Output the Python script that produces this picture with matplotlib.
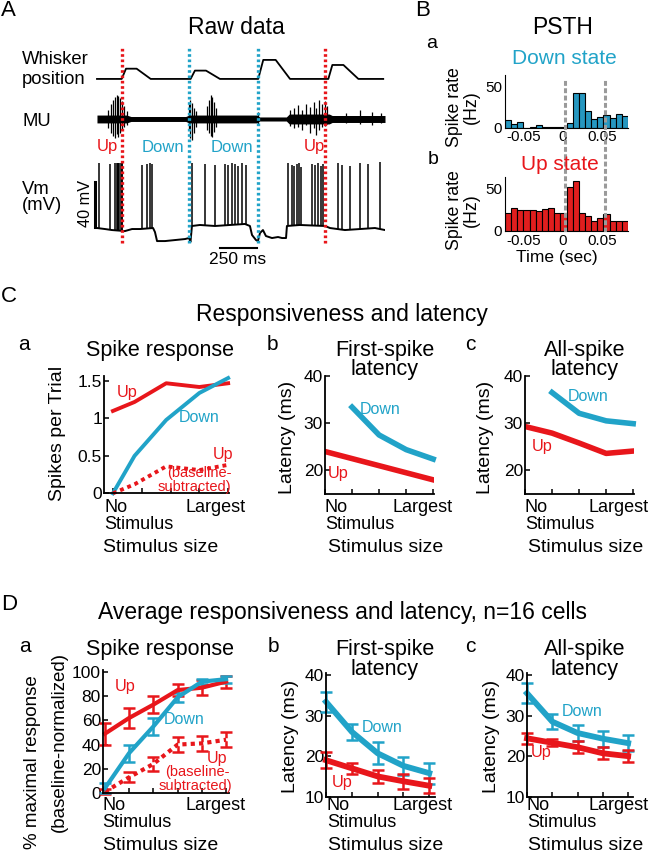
import numpy as np
import matplotlib
matplotlib.use('Agg')
import matplotlib.pyplot as plt

plt.rcParams['font.family'] = ['Liberation Sans', 'DejaVu Sans']
plt.rcParams['axes.unicode_minus'] = False

RED = '#e8161b'
CYAN = '#21a3c8'
BAR_BLUE = '#2697c0'
BAR_RED = '#e01e1e'

# ---------------- A: raw data (time in ms) ----------------
whisker_t = [0, 167, 196, 268, 363, 633, 662, 737, 831, 1090, 1124, 1208, 1305, 1564, 1591, 1666, 1767, 1935]
whisker_pos = [0, 0, 9.1, 9.1, 0, 0, 7.4, 7.4, 0, 0, 16.9, 16.9, 0, 0, 12.4, 12.4, 0, 0]

mu_band_t = [0, 200, 230, 600, 622, 1080, 1100, 1280, 1300, 1570, 1590, 1947]
mu_band = [3.5, 3.5, 2.2, 2.2, 3.5, 3.5, 1.8, 1.8, 4.4, 4.4, 3.1, 3.1]
mu_t = [74, 95, 108, 122, 135, 142, 155, 169, 182, 203, 622, 632, 642, 656, 669,
        744, 757, 771, 777, 791, 804, 1088, 1305, 1332, 1359, 1386, 1413, 1440,
        1467, 1480, 1500, 1521, 1541, 1555, 1683, 1778, 1859, 1920]
mu_hi = [8, 13.3, 16.9, 19.6, 21.3, 20.4, 18.7, 16, 11.6, 7.1, 13.3, 16.9, 14.2, 9.8, 7.1,
         11.6, 16.9, 21.3, 19.6, 15.1, 9.8, 6.2, 8, 9.8, 12.4, 8, 13.3, 10.7,
         15.1, 9.8, 16.9, 13.3, 16, 11.6, 5.3, 8, 6.2, 5.3]
mu_lo = [-8, -12.4, -15.1, -16.9, -13.3, -16, -12.4, -9.8, -7.1, -5.3, -9.8, -16.9, -18.7, -12.4, -7.1,
         -9.8, -12.4, -15.1, -16, -11.6, -7.1, -4.4, -6.2, -8, -7.1, -9.8, -5.3, -12.4,
         -8, -14.2, -9.8, -7.1, -6.2, -4.4, -3.6, -4.4, -5.3, -3.6]

vm_t = [0, 54, 101, 189, 237, 291, 379, 392, 406, 460, 527, 595, 622, 632, 642, 696, 798, 899, 1000,
        1034, 1048, 1075, 1088, 1102, 1122, 1142, 1183, 1224, 1251, 1278, 1284, 1372, 1541, 1575,
        1676, 1778, 1879, 1947]
vm_v = [-55, -55.9, -56.8, -57.7, -55.9, -55.9, -55, -58.6, -66.6, -66.6, -65.7, -64.8, -63.9, -67.4,
        -53.2, -52.3, -53.2, -52.3, -51.4, -53.2, -61.2, -65.7, -66.6, -59.4, -56.8, -62.1, -63.9,
        -63, -63.9, -63.9, -53.2, -52.3, -53.2, -55, -56.8, -55.9, -55, -56.8]
spike_t = [17, 91, 122, 132, 139, 145, 152, 159, 166, 172, 301, 335, 358, 375,
           644, 730, 798, 865, 888, 911, 933, 955, 978, 1007,
           1293, 1316, 1334, 1350, 1366, 1379, 1451, 1474, 1496, 1514, 1530,
           1631, 1654, 1710, 1778, 1834, 1913]
spike_base = [-55.2, -56.7, -57.3, -57.3, -57.3, -57.3, -57.3, -57.3, -57.3, -57.3, -55.9, -55.6, -55.3, -55.1,
              -53.2, -52.6, -53.2, -52.6, -52.4, -52.3, -52.0, -51.8, -51.6, -51.6,
              -53.1, -53.0, -52.9, -52.8, -52.6, -52.4, -52.6, -52.7, -52.8, -53.0, -53.2,
              -55.9, -56.2, -56.5, -55.9, -55.4, -55.9]
spike_peak = [2.8, 2, 2.8, 2.8, 2.8, 2.8, 2.8, 2.8, 2.8, 2.8, 1, 2, 2.8, 1.5,
              2.8, 2, 1, 2, 1, 2.8, 2, 0, 2.8, 1,
              2.8, 1, 0, 2, 2.8, -1, 2, 1, 2.8, 0, 1.5,
              2.8, 1, 0, 2.8, 2, 3.5]
state_t = [169, 622, 1088, 1541]
state_name = ['Up', 'Down', 'Down', 'Up']

# ---------------- B: PSTH ----------------
psth_left = [-0.0745, -0.0666, -0.0587, -0.0508, -0.0429, -0.035, -0.0271, -0.0192, -0.0113, -0.0034,
             0.0045, 0.0124, 0.0203, 0.0282, 0.0361, 0.044, 0.0519, 0.0598, 0.0677, 0.0756]
PSTH_BIN = 0.0079
down_rate = [9, 5, 7, 0, 1, 3, 1, 1, 0.5, 0.5, 6, 42, 42, 20, 11, 13, 15, 12, 16, 14]
up_rate = [21.5, 26.5, 24.5, 24.5, 24.5, 23, 25.5, 26.5, 21.5, 21, 51, 58, 21.5, 17, 11.5, 15.5, 19.5, 12, 12, 12]
window_t = [0.003, 0.0535]

# ---------------- C: single cell ----------------
ca_x = [0, 0.75, 1.85, 3, 4]
ca_up = [1.10, 1.22, 1.47, 1.42, 1.47]
ca_down = [0, 0.50, 0.98, 1.34, 1.54]
ca_up_sub = [0, 0.12, 0.36, 0.31, 0.38]

c_levels = [0, 1, 2, 3, 4]
cb_up = [24.0, 22.5, 21.0, 19.5, 18.0]
cb_down = [33.4, 27.5, 24.4, 22.4]
cc_up = [29.3, 27.9, 25.8, 23.6, 24.1]
cc_down = [36.5, 32.1, 30.5, 29.9]

# ---------------- D: averages, n=16 ----------------
da_levels = [0, 1, 2, 3, 4, 5]
da_up = [49, 62, 73, 85, 87, 92]
da_up_err = [9, 8, 7, 5, 6, 5]
da_down = [4, 33, 55, 79, 92, 94]
da_down_err = [4, 7, 7, 4, 2, 3]
da_up_sub = [1, 13, 24, 40, 41, 44]
da_up_sub_err = [2, 4, 6, 6, 6, 6]

d_levels = [0, 1, 2, 3, 4]
db_down = [33.4, 26, 20.7, 17.6, 15.8]
db_down_err = [2.5, 2, 2.7, 2.3, 2.6]
db_up = [19, 17, 15, 13.8, 12.7]
db_up_err = [1.9, 1.3, 1.6, 1.8, 1.9]
dc_down = [35.5, 28.5, 25.7, 24.3, 23.2]
dc_down_err = [2.5, 1.8, 2, 2, 2]
dc_up = [24.4, 23.3, 22.2, 20.7, 20.0]
dc_up_err = [1.3, 0.9, 1.5, 1.5, 1.5]

W, H = 650, 852
fig = plt.figure(figsize=(W / 100, H / 100), dpi=100)


def box(l, t, r, b):
    return [l / W, 1 - b / H, (r - l) / W, (b - t) / H]


def label(x, y, s, size=13, ha='center', va='center', **kw):
    fig.text(x / W, 1 - y / H, s, fontsize=size, ha=ha, va=va, **kw)


# ===== A =====
axA = fig.add_axes(box(85, 40, 385, 262))
axA.set_xlim(-81, 1947)
axA.set_ylim(-85.2, 112.1)
axA.axis('off')
WHISKER_Y, MU_Y = 77.5, 41.9
axA.plot(whisker_t, np.array(whisker_pos) + WHISKER_Y, color='k', lw=1.3)
axA.fill_between(mu_band_t, MU_Y - np.array(mu_band), MU_Y + np.array(mu_band), color='k', lw=0)
axA.vlines(mu_t, MU_Y + np.array(mu_lo), MU_Y + np.array(mu_hi), color='k', lw=0.9)
axA.plot(vm_t, vm_v, color='k', lw=1.4)
axA.vlines(spike_t, spike_base, spike_peak, color='k', lw=1.1)
for t, s in zip(state_t, state_name):
    axA.plot([t, t], [-68, 106], color=RED if s == 'Up' else CYAN, lw=2.4, ls=(0, (0.8, 0.8)))
axA.plot([-14, -14], [-54, -14], color='k', lw=2.2)
axA.plot([831, 1081], [-72.8, -72.8], color='k', lw=1.5)

label(1, 10, 'A', 16, ha='left')
label(236, 28, 'Raw data', 16.5)
label(22, 60, 'Whisker', 13.3, ha='left')
label(22, 79, 'position', 13.3, ha='left')
label(22, 121, 'MU', 13.3, ha='left')
label(22, 189, 'Vm', 13.3, ha='left')
label(22, 205, '(mV)', 13.3, ha='left')
for x, s in zip([107, 163, 232, 314], state_name):
    label(x, 147, s, 12, color=RED if s == 'Up' else CYAN)
label(85, 203, '40 mV', 11.7, rotation=90)
label(238, 259, '250 ms', 12.5)

# ===== B =====
axBa = fig.add_axes(box(505, 75, 628, 127.7))
axBb = fig.add_axes(box(505, 176.7, 628, 231))
for ax, rate, col in [(axBa, down_rate, BAR_BLUE), (axBb, up_rate, BAR_RED)]:
    ax.bar(psth_left, rate, width=PSTH_BIN, align='edge', color=col, edgecolor='k', lw=0.8)
    ax.set_xlim(-0.0745, 0.0835)
    ax.set_ylim(0, 63.5)
    ax.spines[['top', 'right']].set_visible(False)
    ax.set_xticks([-0.05, 0, 0.05])
    ax.set_xticklabels(['-0.05', '0', '0.05'])
    ax.set_yticks([0, 50])
    ax.set_yticklabels(['0', '50'])
    ax.tick_params(length=0, labelsize=11, pad=2)
axW = fig.add_axes(box(505, 78, 628, 232))
axW.set_xlim(-0.0745, 0.0835)
axW.set_ylim(0, 1)
axW.axis('off')
for t in window_t:
    axW.plot([t, t], [0, 1], color='#9a9a9a', lw=2.2, ls=(0, (1.6, 0.8)))

label(415, 11, 'B', 16, ha='left')
label(563, 28, 'PSTH', 16.5)
label(432, 43, 'a', 14)
label(564, 58, 'Down state', 15, color=CYAN)
label(433, 160, 'b', 14)
label(560, 165, 'Up state', 15, color=RED)
for yc in [107, 210]:
    label(455, yc, 'Spike rate', 12.8, rotation=90)
    label(471, yc, '(Hz)', 12.8, rotation=90)
label(557, 257, 'Time (sec)', 12.5)


# ===== C & D =====
def stim_axes(rect, xlim, ylim, yticks, levels):
    ax = fig.add_axes(box(*rect))
    ax.set_xlim(xlim)
    ax.set_ylim(ylim)
    ax.spines[['top', 'right']].set_visible(False)
    for s in ['left', 'bottom']:
        ax.spines[s].set_linewidth(1.3)
    ax.set_xticks(levels)
    ax.set_xticklabels([])
    ax.set_yticks(yticks)
    ax.set_yticklabels([f'{v:g}' for v in yticks])
    ax.tick_params(direction='in', length=3.5, width=1.1, labelsize=12.5, pad=1.5)
    return ax


def stim_labels(left, right, center, y_no, y_size):
    label(left, y_no, 'No', 13, ha='left')
    label(left, y_no + 17.5, 'Stimulus', 13, ha='left')
    label(right, y_no, 'Largest', 13, ha='right')
    label(center, y_size, 'Stimulus size', 14)


def errline(ax, x, y, err, color, lw, ls='-'):
    eb = ax.errorbar(x, y, yerr=err, color=color, lw=lw, ls=ls, elinewidth=1.8,
                     capsize=4.5, capthick=1.8)
    for a in eb.get_children():
        a.set_clip_on(False)
    if ls != '-':
        eb.lines[2][0].set_linestyle((0, (2.5, 1.2)))
    return eb


# C
label(1, 297, 'C', 16, ha='left')
label(342, 315, 'Responsiveness and latency', 16.5)

axCa = stim_axes((104, 376, 229, 493.3), (-0.31, 4.03), (0, 1.567), [0, 0.5, 1, 1.5], c_levels)
axCa.plot(ca_x, ca_up, color=RED, lw=2.8, clip_on=False)
axCa.plot(ca_x, ca_down, color=CYAN, lw=2.8, clip_on=False)
axCa.plot(ca_x, ca_up_sub, color=RED, lw=2.8, ls=(0, (1, 1)), clip_on=False)
label(24, 344, 'a', 15)
label(160, 350, 'Spike response', 15.5)
label(57.5, 433, 'Spikes per Trial', 14, rotation=90)
label(127, 392, 'Up', 11.7, color=RED)
label(199, 417, 'Down', 11.5, color=CYAN)
label(223, 455, 'Up', 11.5, color=RED)
label(199, 473, '(baseline-', 10.5, color=RED)
label(194, 487, 'subtracted)', 10.5, color=RED)
stim_labels(104, 246, 161, 507, 547)

axCb = stim_axes((325, 376, 434, 494), (0.28, 4.03), (15, 40), [20, 30, 40], c_levels)
axCb.plot(c_levels, cb_up, color=RED, lw=4)
axCb.plot(c_levels[1:], cb_down, color=CYAN, lw=4, clip_on=False)
label(272, 344, 'b', 15)
label(385, 350, 'First-spike', 15.5)
label(385, 370, 'latency', 15.5)
label(287.5, 437, 'Latency (ms)', 14, rotation=90)
label(380, 410, 'Down', 11.5, color=CYAN)
label(338.5, 473.5, 'Up', 11.7, color=RED)
stim_labels(325, 453, 386, 507, 547)

axCc = stim_axes((525, 376, 634, 494), (0.28, 4.03), (15, 40), [20, 30, 40], c_levels)
axCc.plot(c_levels, cc_up, color=RED, lw=4)
axCc.plot(c_levels[1:], cc_down, color=CYAN, lw=4, clip_on=False)
label(470, 344, 'c', 15)
label(585, 350, 'All-spike', 15.5)
label(585, 370, 'latency', 15.5)
label(486, 437, 'Latency (ms)', 14, rotation=90)
label(588.5, 396, 'Down', 11.5, color=CYAN)
label(542.5, 446.5, 'Up', 11.7, color=RED)
stim_labels(525, 649, 585.5, 507, 547)

# D
label(1, 605, 'D', 16, ha='left')
label(342, 612, 'Average responsiveness and latency, n=16 cells', 16.5)

axDa = stim_axes((103, 670, 229, 793), (-0.08, 5.12), (0, 101.6), [0, 20, 40, 60, 80, 100], da_levels)
errline(axDa, da_levels, da_up_sub, da_up_sub_err, RED, 3, ls=(0, (1, 1)))
errline(axDa, da_levels, da_up, da_up_err, RED, 3)
errline(axDa, da_levels, da_down, da_down_err, CYAN, 3)
label(25, 646, 'a', 15)
label(160, 649, 'Spike response', 15.5)
label(33, 762, '% maximal response', 13.5, rotation=90)
label(59, 742, '(baseline-normalized)', 13.5, rotation=90)
label(125, 686, 'Up', 11.7, color=RED)
label(184.5, 719, 'Down', 11.5, color=CYAN)
label(216.5, 758, 'Up', 11.5, color=RED)
label(197, 772, '(baseline-', 10.5, color=RED)
label(195, 786, 'subtracted)', 10.5, color=RED)
stim_labels(102, 246, 161, 805, 845)

axDb = stim_axes((326, 673, 435, 796.7), (0, 4.22), (10, 40.5), [10, 20, 30, 40], d_levels)
errline(axDb, d_levels, db_down, db_down_err, CYAN, 4.2)
errline(axDb, d_levels, db_up, db_up_err, RED, 4.2)
label(273, 646, 'b', 15)
label(385, 650, 'First-spike', 15.5)
label(385, 670, 'latency', 15.5)
label(290.5, 736, 'Latency (ms)', 14, rotation=90)
label(382, 727, 'Down', 11.5, color=CYAN)
label(342.5, 782, 'Up', 11.7, color=RED)
stim_labels(327, 453, 386, 805, 845)

axDc = stim_axes((527, 673, 633, 796.7), (0, 4.19), (10, 40.5), [10, 20, 30, 40], d_levels)
errline(axDc, d_levels, dc_down, dc_down_err, CYAN, 4.2)
errline(axDc, d_levels, dc_up, dc_up_err, RED, 4.2)
label(470, 646, 'c', 15)
label(585, 650, 'All-spike', 15.5)
label(585, 670, 'latency', 15.5)
label(492, 736, 'Latency (ms)', 14, rotation=90)
label(582, 711, 'Down', 11.5, color=CYAN)
label(541.5, 753, 'Up', 11.7, color=RED)
stim_labels(527, 649, 585.5, 805, 845)

fig.savefig('out.png', dpi=100)
